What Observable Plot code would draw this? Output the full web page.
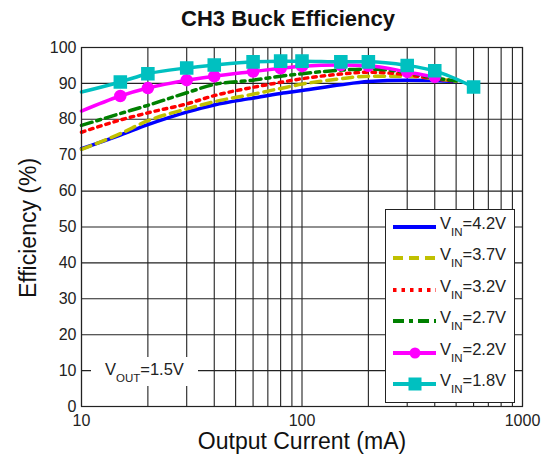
<!DOCTYPE html>
<html>
<head>
<meta charset="utf-8">
<script src="https://cdn.jsdelivr.net/npm/d3@7"></script>
<script src="https://cdn.jsdelivr.net/npm/@observablehq/plot@0.6"></script>
<style>
  body { margin: 0; background: #fff; font-family: "Liberation Sans", Arial, sans-serif; }
  #wrap { position: relative; width: 543px; height: 457px; overflow: hidden; background: #fff; }
  #chart { position: absolute; left: 0; top: 0; }
  #title { position: absolute; left: 0; width: 576px; top: 6px; text-align: center; font-weight: bold; font-size: 22px; color: #111; }
  #xlabel { position: absolute; left: 81px; width: 442px; top: 428px; text-align: center; font-size: 23px; color: #111; }
  #ylabel { position: absolute; left: 28px; top: 228px; transform: translate(-50%, -50%) rotate(-90deg); white-space: nowrap; font-size: 23px; color: #111; }
  #legend { position: absolute; left: 385px; top: 209px; width: 128px; height: 192px; background: #fff; border: 1px solid #222; }
  .row { position: absolute; left: 0; height: 20px; width: 128px; }
  .row svg { position: absolute; left: 7px; top: 2px; }
  .row .lab { position: absolute; left: 54px; top: -3px; font-size: 16.5px; color: #222; white-space: nowrap; }
  .lab sub, #vout sub { font-size: 11.5px; vertical-align: -7px; }
  #vout { position: absolute; left: 91px; top: 357px; width: 107px; height: 29px; background: #fff; }
  #vout span { position: absolute; left: 14px; top: 3px; font-size: 16.5px; color: #222; white-space: nowrap; }
</style>
</head>
<body>
<div id="wrap">
  <div id="chart"></div>
  <div id="title">CH3 Buck Efficiency</div>
  <div id="xlabel">Output Current (mA)</div>
  <div id="ylabel">Efficiency (%)</div>
  <div id="vout"><span>V<sub>OUT</sub>=1.5V</span></div>
  <div id="legend"></div>
</div>
<script>
// ---- data ----
const current = [10, 15, 20, 30, 40, 60, 80, 100, 150, 200, 300, 400, 500, 600]; // mA
const vin42 = [71.8, 75.6, 78.5, 82.0, 84.0, 85.9, 87.2, 88.0, 89.6, 90.5, 90.9, 90.8, 90.5, null];
const vin37 = [71.6, 76.0, 79.6, 82.9, 84.9, 87.0, 88.6, 89.8, 91.3, 92.0, 92.0, 91.3, 90.6, null];
const vin32 = [76.4, 79.8, 81.8, 84.3, 86.6, 88.9, 90.3, 91.3, 92.6, 93.1, 92.4, 91.3, 90.6, null];
const vin27 = [78.3, 81.6, 83.9, 87.4, 89.7, 90.9, 92.0, 92.7, 93.7, 94.0, 93.0, 91.5, 90.7, null];
const vin22 = [82.3, 86.5, 88.7, 90.9, 92.0, 93.3, 94.2, 94.8, 95.1, 94.9, 93.2, 91.8, null, null];
const vin18 = [87.6, 90.4, 92.7, 94.3, 95.1, 96.0, 96.2, 96.2, 96.0, 96.0, 95.0, 93.5, null, 89.0];
const seriesNames = ["4.2V", "3.7V", "3.2V", "2.7V", "2.2V", "1.8V"];
const xTickLabels = [10, 100, 1000];
const yTicks = [0, 10, 20, 30, 40, 50, 60, 70, 80, 90, 100];
const xGrid = [10, 20, 30, 40, 50, 60, 70, 80, 90, 100, 200, 300, 400, 500, 600, 700, 800, 900, 1000];

// ---- styles ----
const styles = [
  {color: "#0000ff", dash: null, marker: null},
  {color: "#c0c000", dash: "10,6", marker: null},
  {color: "#ff0000", dash: "3.5,5", marker: null},
  {color: "#008000", dash: "11,5,4,5", marker: null},
  {color: "#ff00ff", dash: null, marker: "circle"},
  {color: "#00c0c0", dash: null, marker: "square"}
];
const allValues = [vin42, vin37, vin32, vin27, vin22, vin18];

const rowsOf = vals => current.map((c, i) => ({c, e: vals[i]})).filter(d => d.e != null);

const marks = [
  Plot.ruleX(xGrid, {stroke: "#222", strokeWidth: 1.1}),
  Plot.ruleY(yTicks, {stroke: "#222", strokeWidth: 1.1})
];
allValues.forEach((vals, k) => {
  const st = styles[k];
  const rows = rowsOf(vals);
  marks.push(Plot.line(rows, {x: "c", y: "e", stroke: st.color, strokeWidth: 3.5, strokeDasharray: st.dash, curve: "monotone-x"}));
  if (st.marker) {
    marks.push(Plot.dot(rows.filter(d => d.c > 10), {x: "c", y: "e", symbol: st.marker, r: st.marker === "square" ? 6.8 : 5.5, fill: st.color, stroke: st.color}));
  }
});
marks.push(Plot.frame({stroke: "#222", strokeWidth: 1.2}));
marks.push(Plot.axisX(xTickLabels, {tickSize: 0, tickPadding: 8, fontSize: 16, tickFormat: d => String(d), label: null, fill: "#222"}));
marks.push(Plot.axisY(yTicks, {tickSize: 0, tickPadding: 5, fontSize: 16, label: null, fill: "#222"}));

const chart = Plot.plot({
  width: 543, height: 457,
  marginLeft: 81, marginRight: 21, marginTop: 47, marginBottom: 51,
  style: {fontFamily: "Liberation Sans, Arial, sans-serif", background: "#fff"},
  x: {type: "log", domain: [10, 1000]},
  y: {domain: [0, 100]},
  marks
});
document.getElementById("chart").appendChild(chart);

// ---- legend ----
const legend = document.getElementById("legend");
seriesNames.forEach((name, k) => {
  const st = styles[k];
  const row = document.createElement("div");
  row.className = "row";
  row.style.top = (7 + k * 31.4) + "px";
  let sym = "";
  if (st.marker === "circle") sym = `<circle cx="22" cy="8" r="5.5" fill="${st.color}"/>`;
  if (st.marker === "square") sym = `<rect x="15.5" y="1.5" width="13" height="13" fill="${st.color}"/>`;
  row.innerHTML = `<svg width="44" height="16"><line x1="0" x2="43" y1="8" y2="8" stroke="${st.color}" stroke-width="4" ${st.dash ? `stroke-dasharray="${st.dash}"` : ""}/>${sym}</svg>` +
    `<span class="lab">V<sub>IN</sub>=${name}</span>`;
  legend.appendChild(row);
});
</script>
</body>
</html>
